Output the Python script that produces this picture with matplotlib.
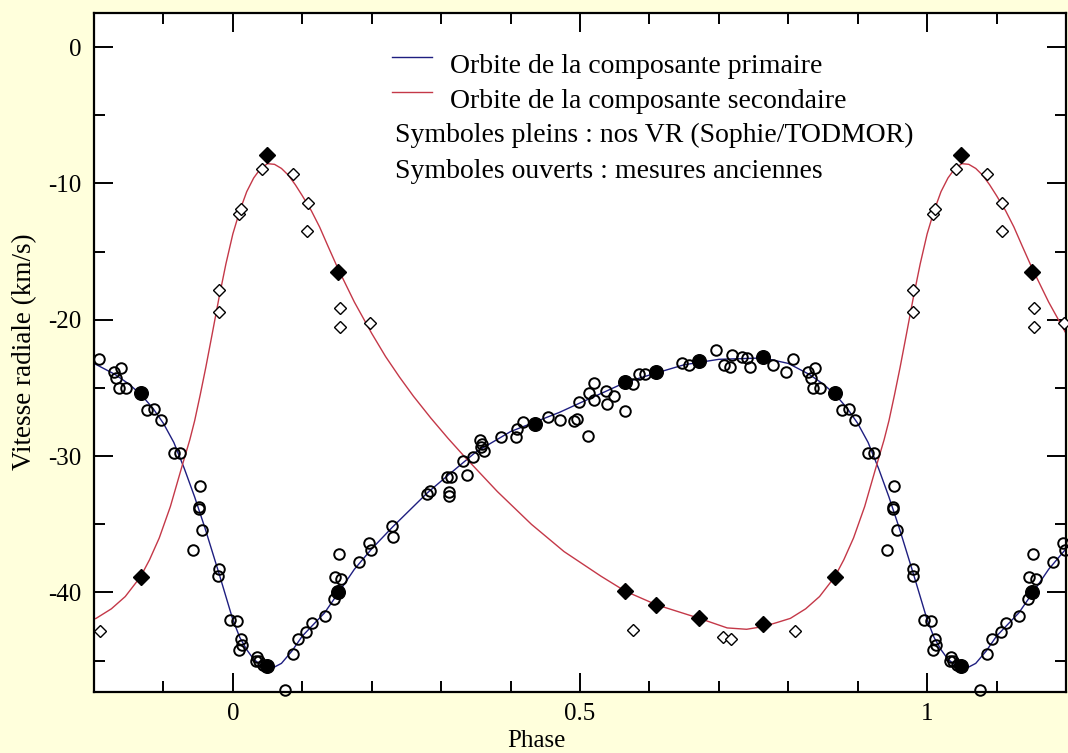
import numpy as np
import matplotlib
matplotlib.use("Agg")
from matplotlib import pyplot as plt
from matplotlib.ticker import MultipleLocator

# orbital solutions over one cycle (phase, km/s)
curve_phase_1 = [0.0, 0.01, 0.02, 0.03, 0.04, 0.055, 0.07, 0.085, 0.1, 0.115, 0.132, 0.151,
                 0.175, 0.2, 0.23, 0.26, 0.28, 0.31, 0.35, 0.4, 0.435, 0.47, 0.5, 0.535,
                 0.565, 0.61, 0.65, 0.7, 0.764, 0.8, 0.83, 0.85, 0.868, 0.885, 0.9, 0.915,
                 0.93, 0.945, 0.96, 0.98, 1.0]
curve_vr_1 = [-42.0, -43.3, -44.2, -44.9, -45.3, -45.6, -45.2, -44.3, -43.2, -42.4, -41.5, -40.1,
              -38.3, -36.8, -35.2, -33.7, -32.7, -31.4, -29.7, -28.2, -27.5, -26.8, -26.1, -25.3,
              -24.6, -23.9, -23.3, -22.9, -22.8, -23.2, -24.0, -24.7, -25.5, -26.5, -27.6, -29.0,
              -30.9, -33.0, -35.3, -38.6, -42.0]

curve_phase_2 = [0.0, 0.01, 0.02, 0.03, 0.04, 0.05, 0.06, 0.07, 0.08, 0.09, 0.1, 0.113, 0.125,
                 0.137, 0.151, 0.175, 0.2, 0.22, 0.24, 0.26, 0.285, 0.31, 0.333, 0.381, 0.43,
                 0.477, 0.53, 0.565, 0.61, 0.672, 0.712, 0.74, 0.764, 0.784, 0.803, 0.825,
                 0.845, 0.867, 0.88, 0.894, 0.91, 0.927, 0.938, 0.945, 0.953, 0.961, 0.97,
                 0.98, 0.99, 1.0]
curve_vr_2 = [-13.7, -12.0, -10.6, -9.6, -8.9, -8.55, -8.6, -8.9, -9.4, -10.1, -10.9, -12.0, -13.2,
              -14.6, -16.2, -18.7, -21.0, -22.7, -24.2, -25.6, -27.2, -28.7, -30.0, -32.6, -35.0,
              -37.0, -38.8, -39.9, -40.9, -41.9, -42.6, -42.7, -42.5, -42.2, -41.9, -41.2,
              -40.3, -38.85, -37.6, -36.0, -33.7, -30.7, -28.8, -27.4, -25.5, -23.5, -21.1,
              -18.4, -15.9, -13.7]

# Sophie/TODMOR velocities (filled symbols)
new_phase_1 = [0.0485, 0.151, 0.4345, 0.565, 0.610, 0.672, 0.764, 0.868]
new_vr_1 = [-45.4, -40.0, -27.64, -24.6, -23.86, -23.05, -22.76, -25.37]
new_phase_2 = [0.0485, 0.151, 0.565, 0.610, 0.672, 0.764, 0.868]
new_vr_2 = [-7.9, -16.5, -39.9, -40.9, -41.85, -42.3, -38.85]

# older measurements (open symbols)
old_phase_1 = [0.0053, 0.009, 0.0115, 0.0125, 0.033, 0.035, 0.0374, 0.043, 0.0758, 0.0868,
               0.094, 0.106, 0.114, 0.1324, 0.1458, 0.1468, 0.153, 0.1564, 0.181, 0.196,
               0.1986, 0.2298, 0.231,
               0.280, 0.284, 0.309, 0.312, 0.312, 0.3137, 0.332, 0.3377, 0.346, 0.356,
               0.357, 0.359, 0.3616, 0.3866, 0.4072, 0.4096, 0.418, 0.4537, 0.4709, 0.491,
               0.495, 0.498,
               0.5117, 0.513, 0.520, 0.520, 0.537, 0.539, 0.549, 0.5655, 0.5765, 0.5846,
               0.594, 0.647, 0.6566, 0.6964, 0.707, 0.7156, 0.719, 0.733, 0.7406, 0.745,
               0.778, 0.797, 0.807, 0.829, 0.832, 0.836, 0.839, 0.846, 0.877, 0.887,
               0.896, 0.915, 0.924, 0.942, 0.9515, 0.9515, 0.9525, 0.956, 0.979, 0.980,
               0.9957]
old_vr_1 = [-42.1, -44.23, -43.44, -43.88, -45.03, -44.7, -45.03, -45.3, -47.16, -44.49,
            -43.44, -42.88, -42.27, -41.7, -40.5, -38.9, -37.2, -39.0, -37.8, -36.4,
            -36.85, -35.1, -35.9,
            -32.75, -32.58, -31.5, -32.6, -32.9, -31.5, -30.33, -31.4, -30.1, -28.85,
            -29.35, -29.1, -29.65, -28.62, -28.6, -28.0, -27.5, -27.13, -27.38, -27.4,
            -27.3, -26.0,
            -28.55, -25.37, -24.64, -25.86, -25.25, -26.2, -25.6, -26.7, -24.7, -24.0,
            -24.0, -23.17, -23.3, -22.25, -23.3, -23.5, -22.56, -22.7, -22.8, -23.5,
            -23.3, -23.8, -22.9, -23.8, -24.27, -25.0, -23.54, -25.0, -26.64, -26.54,
            -27.38, -29.8, -29.8, -36.9, -33.7, -33.85, -32.16, -35.4, -38.8, -38.3,
            -42.05]
old_phase_2 = [0.0086, 0.0115, 0.0413, 0.0868, 0.1074, 0.1084, 0.154, 0.154, 0.197,
               0.576, 0.706, 0.717, 0.809, 0.98, 0.98]
old_vr_2 = [-12.23, -11.87, -8.96, -9.33, -13.46, -11.45, -19.1, -20.56, -20.2,
            -42.76, -43.25, -43.44, -42.8, -17.8, -19.46]

x_ticks = [0, 0.5, 1]
x_tick_labels = ["0", "0.5", "1"]
y_ticks = [-40, -30, -20, -10, 0]
y_tick_labels = ["-40", "-30", "-20", "-10", "0"]

XMIN, XMAX = -0.2, 1.2
YMIN, YMAX = -47.3, 2.5


def fold(phase, vr, margin=0.0):
    # repeat one cycle at phase-1 and phase+1 to cover the plotted range
    p = np.asarray(phase, dtype=float)
    v = np.asarray(vr, dtype=float)
    pp = np.concatenate([p - 1, p, p + 1])
    vv = np.concatenate([v, v, v])
    keep = (pp >= XMIN - margin) & (pp <= XMAX + margin)
    return pp[keep], vv[keep]


plt.rcParams['font.family'] = ['Liberation Serif', 'DejaVu Serif']

fig = plt.figure(figsize=(10.68, 7.53), dpi=100)
fig.patch.set_facecolor('#ffffdc')
ax = fig.add_axes([94 / 1068, 61 / 753, 972 / 1068, 679 / 753])
ax.set_facecolor('white')

blue = '#1e1e80'
red = '#c43848'

x, y = fold(curve_phase_1, curve_vr_1, margin=0.1)
ax.plot(x, y, color=blue, lw=1.0, zorder=2)
x, y = fold(curve_phase_2, curve_vr_2, margin=0.1)
ax.plot(x, y, color=red, lw=1.0, zorder=2)

x, y = fold(old_phase_1, old_vr_1)
ax.plot(x, y, 'o', ms=7.6, mfc='none', mec='black', mew=1.4, clip_on=False, zorder=3)
x, y = fold(old_phase_2, old_vr_2)
ax.plot(x, y, 'D', ms=6.0, mfc='white', mec='black', mew=1.0, clip_on=False, zorder=3)
x, y = fold(new_phase_1, new_vr_1)
ax.plot(x, y, 'o', ms=9.8, mfc='black', mec='black', clip_on=False, zorder=4)
x, y = fold(new_phase_2, new_vr_2)
ax.plot(x, y, 'D', ms=8.6, mfc='black', mec='black', clip_on=False, zorder=4)

ax.set_xlim(XMIN, XMAX)
ax.set_ylim(YMIN, YMAX)
ax.set_xticks(x_ticks)
ax.set_xticklabels(x_tick_labels)
ax.set_yticks(y_ticks)
ax.set_yticklabels(y_tick_labels)
ax.xaxis.set_minor_locator(MultipleLocator(0.1))
ax.yaxis.set_minor_locator(MultipleLocator(5))
ax.tick_params(which='both', direction='in', top=True, right=True, width=1.4,
               labelsize=18, colors='black')
ax.tick_params(which='major', length=14)
ax.tick_params(which='minor', length=8)
ax.tick_params(axis='x', which='major', pad=8)
ax.tick_params(axis='y', which='major', pad=9)
for s in ax.spines.values():
    s.set_linewidth(1.6)

fig.text(536 / 1068, 1 - 741 / 753, 'Phase', ha='center', va='center', fontsize=18)
fig.text(25 / 1068, 1 - 352 / 753, 'Vitesse radiale (km/s)', ha='center', va='center',
         rotation=90, fontsize=19.5)

# legend block
tr = ax.transAxes
ax.plot([0.3066, 0.3477], [0.9352, 0.9352], color=blue, lw=1.0, transform=tr)
ax.plot([0.3066, 0.3477], [0.8837, 0.8837], color=red, lw=1.0, transform=tr)
ax.text(0.3663, 0.9110, 'Orbite de la composante primaire', transform=tr,
        fontsize=20, va='baseline')
ax.text(0.3663, 0.8600, 'Orbite de la composante secondaire', transform=tr,
        fontsize=20, va='baseline')
ax.text(0.3097, 0.8100, 'Symboles pleins : nos VR (Sophie/TODMOR)', transform=tr,
        fontsize=20, va='baseline')
ax.text(0.3097, 0.7570, 'Symboles ouverts : mesures anciennes', transform=tr,
        fontsize=20, va='baseline')

fig.savefig('out.png', dpi=100, facecolor=fig.get_facecolor())
